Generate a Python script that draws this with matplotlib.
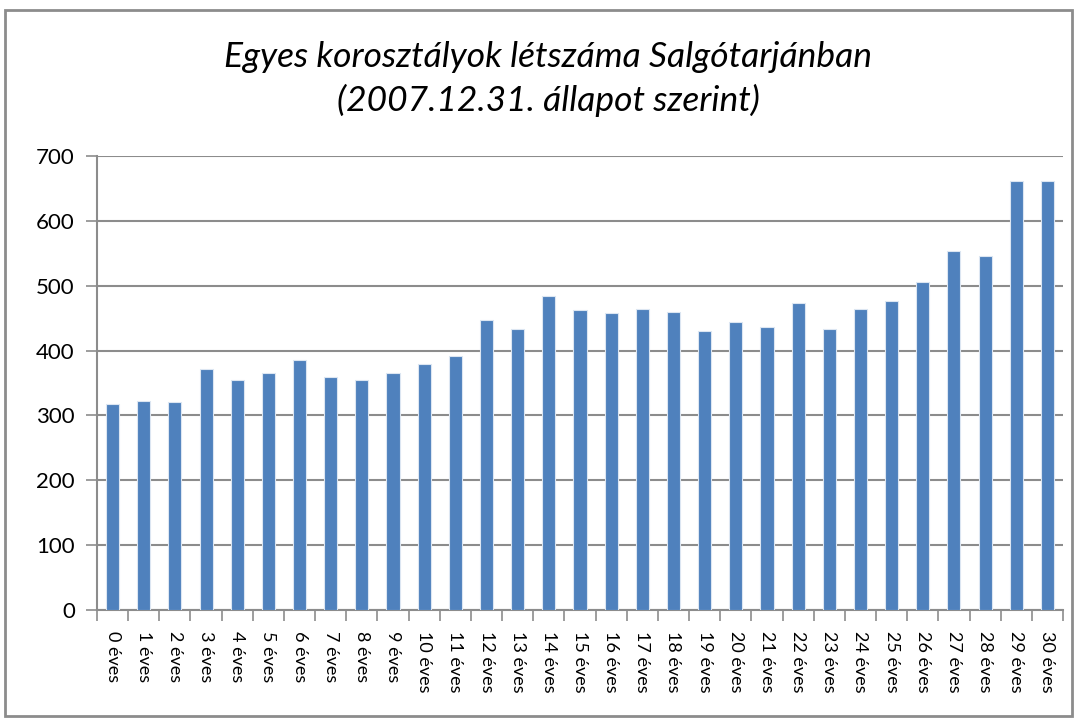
import matplotlib
matplotlib.use("Agg")
import matplotlib.pyplot as plt
from matplotlib.patches import Rectangle

# age groups and head counts
ages = list(range(31))
labels = [f"{a} éves" for a in ages]
counts = [318, 322, 321, 371, 354, 366, 386, 360, 354, 366, 380, 392,
          447, 433, 484, 462, 458, 464, 460, 430, 444, 436,
          474, 433, 464, 477, 506, 553, 546, 661, 661]
yticks = [0, 100, 200, 300, 400, 500, 600, 700]

plt.rcParams['font.family'] = ['Lato', 'DejaVu Sans']

fig = plt.figure(figsize=(10.77, 7.22), dpi=100)
ax = fig.add_axes([97 / 1077, 1 - 610 / 722, 966 / 1077, 454 / 722])

ax.bar(ages, counts, width=0.42, color='#4F81BD', edgecolor='#DCE6F2',
       linewidth=0.8, zorder=3)

ax.set_xlim(-0.5, 30.5)
ax.set_ylim(0, 700)
ax.set_yticks(yticks)
ax.set_yticklabels([str(v) for v in yticks], fontsize=16)
ax.grid(axis='y', color='#8C8C8C', linewidth=1.5, zorder=0)

# category ticks sit between the bars
ax.set_xticks([a - 0.5 for a in ages] + [30.5], minor=False)
ax.set_xticklabels([''] * 32)
ax.set_xticks(ages, minor=True)
ax.set_xticklabels(labels, minor=True, rotation=-90, fontsize=13, va='top')
ax.tick_params(axis='x', which='major', length=8, color='#8C8C8C', width=1.2)
ax.tick_params(axis='x', which='minor', length=0, pad=15)
ax.tick_params(axis='y', length=8, color='#8C8C8C', width=1.2, pad=8)

for side in ['top', 'right']:
    ax.spines[side].set_visible(False)
ax.spines['left'].set_color('#8C8C8C')
ax.spines['left'].set_linewidth(1.5)
ax.spines['bottom'].set_color('#8C8C8C')
ax.spines['bottom'].set_linewidth(1.5)

fig.text(548 / 1077, 1 - 57 / 722, "Egyes korosztályok létszáma Salgótarjánban",
         ha='center', va='center', fontsize=25.5, style='italic')
fig.text(548 / 1077, 1 - 100 / 722, "(2007.12.31. állapot szerint)",
         ha='center', va='center', fontsize=25.5, style='italic')

# chart border
fig.patches.append(Rectangle((5 / 1077, 1 - 716 / 722), 1067 / 1077, 706 / 722,
                             transform=fig.transFigure, fill=False,
                             edgecolor='#8C8C8C', linewidth=2))

fig.savefig("out.png", dpi=100)
